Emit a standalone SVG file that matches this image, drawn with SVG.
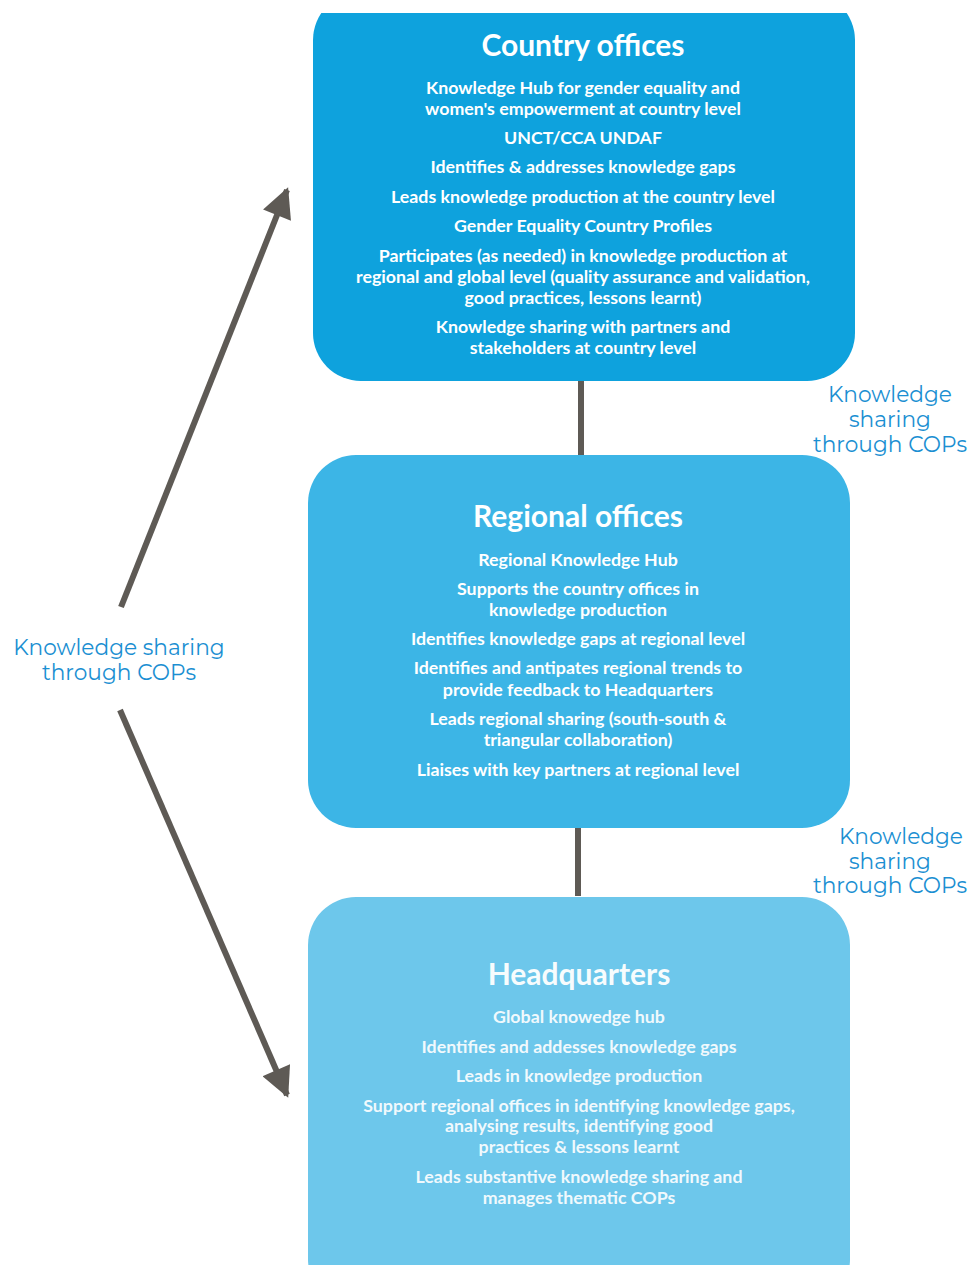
<svg xmlns="http://www.w3.org/2000/svg" width="971" height="1265" viewBox="0 0 971 1265">
<defs>
<style>
.t{font-family:"Lato","Liberation Sans",sans-serif;font-weight:bold;fill:#fff;text-anchor:middle}
.h{font-size:30px}
.b{font-size:17.8px}
.l{font-family:"Montserrat","Lato","Noto Sans",sans-serif;font-size:21.7px;fill:#1b8fd2;text-anchor:middle}
.c{stroke:#5e5a55;stroke-width:6;fill:none}
</style>
<marker id="ah" viewBox="0 0 10 10" refX="9" refY="5" markerWidth="5.5" markerHeight="5" orient="auto" markerUnits="strokeWidth">
<path d="M0,0 L10,5 L0,10 z" fill="#5e5a55"/>
</marker>
<clipPath id="topclip"><rect x="0" y="13" width="971" height="1252"/></clipPath>
</defs>
<rect width="971" height="1265" fill="#fff"/>
<g id="connectors">
<line class="c" x1="581" y1="378" x2="581" y2="456"/>
<line class="c" x1="578" y1="825" x2="578" y2="896"/>
<line class="c" stroke-width="5" x1="121" y1="607" x2="287" y2="190" marker-end="url(#ah)"/>
<line class="c" stroke-width="5" x1="120" y1="710" x2="287" y2="1095" marker-end="url(#ah)"/>
</g>
<g id="country">
<rect x="313" y="-8" width="542" height="389" rx="48" fill="#0ea2dd" clip-path="url(#topclip)"/>
<text class="t h" x="583" y="56">Country offices</text>
<text class="t b" x="583" y="94">Knowledge Hub for gender equality and</text>
<text class="t b" x="583" y="115">women's empowerment at country level</text>
<text class="t b" x="583" y="144">UNCT/CCA UNDAF</text>
<text class="t b" x="583" y="173">Identifies &amp; addresses knowledge gaps</text>
<text class="t b" x="583" y="203">Leads knowledge production at the country level</text>
<text class="t b" x="583" y="232">Gender Equality Country Profiles</text>
<text class="t b" x="583" y="262">Participates (as needed) in knowledge production at</text>
<text class="t b" x="583" y="283">regional and global level (quality assurance and validation,</text>
<text class="t b" x="583" y="304">good practices, lessons learnt)</text>
<text class="t b" x="583" y="333">Knowledge sharing with partners and</text>
<text class="t b" x="583" y="354">stakeholders at country level</text>
</g>
<g id="regional">
<rect x="308" y="455" width="542" height="373" rx="48" fill="#3cb5e6"/>
<text class="t h" x="578" y="527">Regional offices</text>
<text class="t b" x="578" y="566">Regional Knowledge Hub</text>
<text class="t b" x="578" y="595">Supports the country offices in</text>
<text class="t b" x="578" y="616">knowledge production</text>
<text class="t b" x="578" y="645">Identifies knowledge gaps at regional level</text>
<text class="t b" x="578" y="674">Identifies and antipates regional trends to</text>
<text class="t b" x="578" y="696">provide feedback to Headquarters</text>
<text class="t b" x="578" y="725">Leads regional sharing (south-south &amp;</text>
<text class="t b" x="578" y="746">triangular collaboration)</text>
<text class="t b" x="578" y="776">Liaises with key partners at regional level</text>
</g>
<g id="hq">
<rect x="308" y="897" width="542" height="410" rx="48" fill="#6dc7eb"/>
<text class="t h" x="579" y="985" opacity="0.95">Headquarters</text>
<g opacity="0.9">
<text class="t b" x="579" y="1023">Global knowedge hub</text>
<text class="t b" x="579" y="1053">Identifies and addesses knowledge gaps</text>
<text class="t b" x="579" y="1082">Leads in knowledge production</text>
<text class="t b" x="579" y="1112">Support regional offices in identifying knowledge gaps,</text>
<text class="t b" x="579" y="1132">analysing results, identifying good</text>
<text class="t b" x="579" y="1153">practices &amp; lessons learnt</text>
<text class="t b" x="579" y="1183">Leads substantive knowledge sharing and</text>
<text class="t b" x="579" y="1204">manages thematic COPs</text>
</g>
</g>
<g id="labels">
<text class="l"><tspan x="119" y="655">Knowledge sharing</tspan><tspan x="119" y="680">through COPs</tspan></text>
<text class="l"><tspan x="890" y="402">Knowledge</tspan><tspan x="890" y="427">sharing</tspan><tspan x="890" y="452">through COPs</tspan></text>
<text class="l"><tspan x="901" y="844">Knowledge</tspan><tspan x="890" y="868.5">sharing</tspan><tspan x="890" y="893">through COPs</tspan></text>
</g>
</svg>
